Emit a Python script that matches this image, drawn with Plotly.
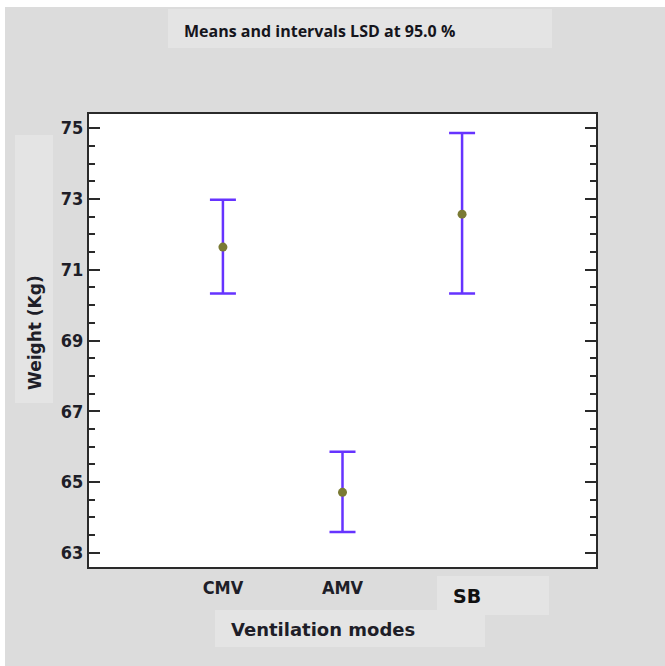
import plotly.graph_objects as go

# ---- data ----
categories = ["CMV", "AMV", "SB"]
means = [71.64, 64.71, 72.57]
upper = [72.98, 65.86, 74.86]
lower = [70.33, 63.59, 70.33]
y_tickvals = [63, 65, 67, 69, 71, 73, 75]
title_text = "Means and intervals LSD at 95.0 %"
x_title = "Ventilation modes"
y_title = "Weight (Kg)"

err_plus = [u - m for u, m in zip(upper, means)]
err_minus = [m - l for m, l in zip(means, lower)]

W, H = 665, 666
L, R, T, B = 89, 596, 114, 567  # plot area in page px


def px(x):
    return (x - L) / (R - L)


def py(y):
    return (B - y) / (B - T)


BG = "#dcdcdc"
BOX = "#e4e4e4"
TXT = "#1e1e28"

fig = go.Figure()
fig.add_trace(go.Scatter(
    x=categories, y=means, mode="markers",
    marker=dict(color="#7a7a34", size=9, line=dict(width=0)),
    error_y=dict(type="data", symmetric=False, array=err_plus, arrayminus=err_minus,
                 color="#6633ff", thickness=2.5, width=13),
    showlegend=False, cliponaxis=False,
))

shapes = []
# white strips at the top and left edges of the picture
shapes.append(dict(type="rect", xref="paper", yref="paper", x0=px(-5), x1=px(W + 5),
                   y0=py(7), y1=py(-5), fillcolor="white", line_width=0, layer="below"))
shapes.append(dict(type="rect", xref="paper", yref="paper", x0=px(-5), x1=px(5),
                   y0=py(H + 5), y1=py(-5), fillcolor="white", line_width=0, layer="below"))
# light boxes behind the texts
for (x0, x1, y0, y1) in [(168, 552, 9, 48), (15, 53, 135, 403), (437, 549, 576, 615), (215, 485, 610, 647)]:
    shapes.append(dict(type="rect", xref="paper", yref="paper", x0=px(x0), x1=px(x1),
                       y0=py(y1), y1=py(y0), fillcolor=BOX, line_width=0, layer="below"))

bold = "DejaVu Sans"
narrow = "DejaVu Sans Condensed, Liberation Sans Narrow, sans-serif"

annotations = [
    dict(text=title_text, xref="paper", yref="paper", x=px(319), y=py(31), showarrow=False,
         xanchor="center", yanchor="middle", font=dict(family="Open Sans", size=16, color="#15151c", weight="bold")),
    dict(text=y_title, xref="paper", yref="paper", x=px(35), y=py(333), showarrow=False, textangle=-90,
         xanchor="center", yanchor="middle", font=dict(family=bold, size=17, color=TXT, weight="bold")),
    dict(text=x_title, xref="paper", yref="paper", x=px(323), y=py(629), showarrow=False,
         xanchor="center", yanchor="middle", font=dict(family=bold, size=18, color=TXT, weight="bold")),
    dict(text=categories[2], xref="x", yref="paper", x=categories[2], y=py(596), showarrow=False, xshift=5,
         xanchor="center", yanchor="middle", font=dict(family=bold, size=19, color="#111", weight="bold")),
]

fig.update_layout(
    width=W, height=H,
    margin=dict(l=L, r=W - R, t=T, b=H - B, pad=0),
    paper_bgcolor=BG, plot_bgcolor="white",
    shapes=shapes, annotations=annotations,
)
fig.update_xaxes(
    type="category", range=[-1.12, 3.12], categoryorder="array", categoryarray=categories,
    tickvals=categories[:2], ticktext=categories[:2], ticks="",
    showgrid=False, zeroline=False, showline=True, linecolor="#2a2a2a", linewidth=2, mirror=True,
    tickfont=dict(family=narrow, size=18, color=TXT, weight="bold"), ticklabelstandoff=3,
)
fig.update_yaxes(
    range=[62.6, 75.4], tickvals=y_tickvals, ticks="inside", ticklen=11, tickwidth=2, tickcolor="#2a2a2a",
    minor=dict(dtick=0.5, tick0=63, ticks="inside", ticklen=6, tickwidth=2, tickcolor="#2a2a2a", showgrid=False),
    showgrid=False, zeroline=False, showline=True, linecolor="#2a2a2a", linewidth=2, mirror="allticks",
    tickfont=dict(family=narrow, size=18, color=TXT, weight="bold"), ticklabelstandoff=0,
)

fig.write_html("out.html", config={"displayModeBar": False},
               post_script="document.body.style.margin='0';document.body.style.overflow='hidden';")
